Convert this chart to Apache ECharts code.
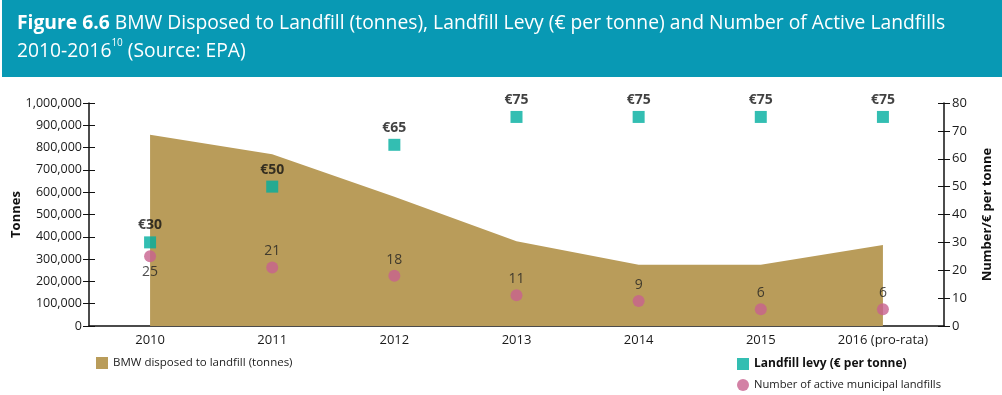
<!DOCTYPE html>
<html>
<head>
<meta charset="utf-8">
<script src="https://cdn.jsdelivr.net/npm/echarts@6/dist/echarts.min.js"></script>
<style>
html,body{margin:0;padding:0;background:#fff;}
#c{width:1002px;height:395px;}
</style>
</head>
<body>
<div id="c"></div>
<script>
const categories = ['2010','2011','2012','2013','2014','2015','2016 (pro-rata)'];
const bmwTonnes = [858000, 770000, 580000, 380000, 275000, 275000, 363000];
const levy = [30, 50, 65, 75, 75, 75, 75];
const landfills = [25, 21, 18, 11, 9, 6, 6];
const leftTicks = [0, 1000000, 100000];
const rightTicks = [0, 80, 10];

const FONT = '"Open Sans", "Noto Sans", sans-serif';
const chart = echarts.init(document.getElementById('c'), null, {renderer: 'canvas'});
const innerTickAxis = (t, pos) => ({
  type: 'value', min: t[0], max: t[1], interval: t[2], position: pos,
  axisLine: {show: false}, axisLabel: {show: false}, splitLine: {show: false},
  axisTick: {show: true, inside: true, length: 6, lineStyle: {color: '#111'}}
});
chart.setOption({
  animation: false,
  textStyle: {fontFamily: FONT},
  graphic: [
    {type: 'rect', shape: {x: 2, y: 0, width: 1000, height: 77}, style: {fill: '#0899b4'}, silent: true}
  ],
  title: {
    left: 12, top: 5,
    text: '{b|Figure 6.6} BMW Disposed to Landfill (tonnes), Landfill Levy (€ per tonne) and Number of Active Landfills\n2010-2016{sup|10} (Source: EPA)',
    textStyle: {
      color: '#fff', fontSize: 19.3, fontWeight: 'normal', fontFamily: FONT, lineHeight: 28,
      rich: {
        b: {fontWeight: 'bold', fontSize: 19.3, color: '#fff', fontFamily: FONT, lineHeight: 28},
        sup: {fontSize: 10, color: '#fff', verticalAlign: 'top', padding: [0,0,8,0], fontFamily: FONT, lineHeight: 28}
      }
    }
  },
  legend: [
    {left: 96, top: 357, padding: 0, itemWidth: 12, itemHeight: 12, itemGap: 6,
     textStyle: {fontSize: 11.5, color: '#222', fontFamily: FONT},
     data: [{name: 'BMW disposed to landfill (tonnes)', icon: 'rect'}]},
    {left: 737, top: 358, padding: 0, itemWidth: 12, itemHeight: 12,
     textStyle: {fontSize: 12, color: '#111', fontWeight: 'bold', fontFamily: FONT},
     data: [{name: 'Landfill levy (€ per tonne)', icon: 'rect'}]},
    {left: 737, top: 379, padding: 0, itemWidth: 12, itemHeight: 12,
     textStyle: {fontSize: 11.2, color: '#222', fontFamily: FONT},
     data: [{name: 'Number of active municipal landfills', icon: 'circle'}]}
  ],
  grid: {left: 89, right: 58, top: 103, bottom: 69, outerBoundsMode: 'none', containLabel: false},
  xAxis: {
    type: 'category', data: categories, boundaryGap: true,
    axisLine: {lineStyle: {color: '#111', width: 1.5}},
    axisTick: {show: false},
    axisLabel: {color: '#1a1a1a', fontSize: 13, margin: 8, fontFamily: FONT}
  },
  yAxis: [
    {type: 'value', min: leftTicks[0], max: leftTicks[1], interval: leftTicks[2], position: 'left',
     name: 'Tonnes', nameLocation: 'middle', nameGap: 66, nameRotate: 90, nameMoveOverlap: false,
     nameTextStyle: {fontWeight: 'bold', fontSize: 13, color: '#111', fontFamily: FONT},
     axisLine: {show: true, lineStyle: {color: '#111', width: 1.5}},
     axisTick: {show: true, length: 6, lineStyle: {color: '#111'}},
     splitLine: {show: false},
     axisLabel: {color: '#1a1a1a', fontSize: 12.5, margin: 7, fontFamily: FONT,
       formatter: v => v.toLocaleString('en-US')}},
    {type: 'value', min: rightTicks[0], max: rightTicks[1], interval: rightTicks[2], position: 'right',
     name: 'Number/€ per tonne', nameLocation: 'middle', nameGap: 37, nameRotate: 90, nameMoveOverlap: false,
     nameTextStyle: {fontWeight: 'bold', fontSize: 13, color: '#111', fontFamily: FONT},
     axisLine: {show: true, lineStyle: {color: '#111', width: 1.5}},
     axisTick: {show: true, length: 6, lineStyle: {color: '#111'}},
     splitLine: {show: false},
     axisLabel: {color: '#1a1a1a', fontSize: 13, margin: 8, fontFamily: FONT}},
    innerTickAxis(leftTicks, 'left'),
    innerTickAxis(rightTicks, 'right')
  ],
  series: [
    {name: 'BMW disposed to landfill (tonnes)', type: 'line', yAxisIndex: 0, data: bmwTonnes,
     symbol: 'none', lineStyle: {width: 0}, itemStyle: {color: '#b99c5a'},
     areaStyle: {color: '#b99c5a', opacity: 1}, z: 1},
    {name: 'Landfill levy (€ per tonne)', type: 'scatter', yAxisIndex: 1, data: levy,
     symbol: 'rect', symbolSize: 12, itemStyle: {color: '#00ae9f'},
     label: {show: true, position: 'top', distance: 4, formatter: p => '€' + p.value,
       fontWeight: 'bold', fontSize: 14, color: '#111', fontFamily: FONT}, z: 3},
    {name: 'Number of active municipal landfills', type: 'scatter', yAxisIndex: 1,
     data: landfills.map((v, i) => i === 0 ? {value: v, label: {position: 'bottom'}} : v),
     symbol: 'circle', symbolSize: 12, itemStyle: {color: '#c8628e'},
     label: {show: true, position: 'top', distance: 3, fontSize: 14, color: '#222', fontFamily: FONT}, z: 3}
  ]
});
</script>
</body>
</html>
